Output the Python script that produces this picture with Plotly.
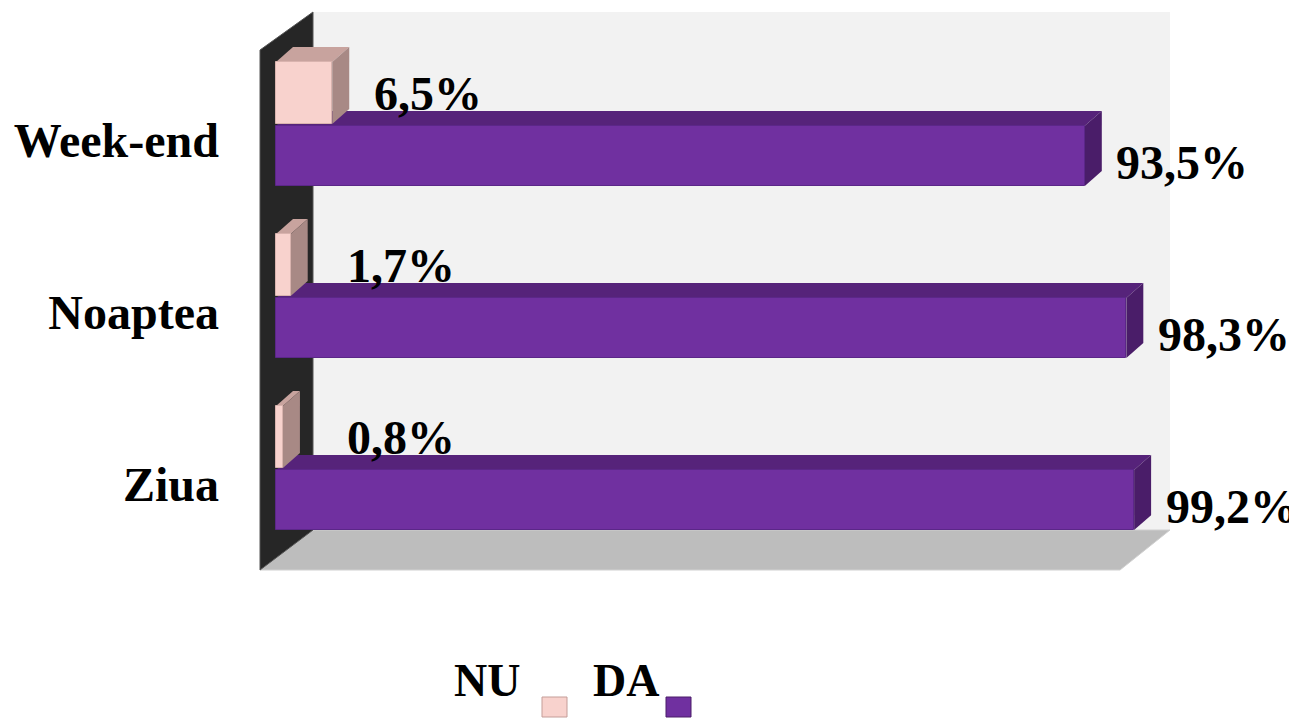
import plotly.graph_objects as go

# ---------------- data ----------------
categories = ["Ziua", "Noaptea", "Week-end"]
series_names = ["NU", "DA"]
nu_values = [0.8, 1.7, 6.5]
da_values = [99.2, 98.3, 93.5]


def fmt(v):
    return f"{v:.1f}".replace(".", ",") + "%"


# ---------------- styling / geometry ----------------
OFF = 8  # page body margin
W, H = 1297 - OFF, 719 - OFF
L, T = 260 - OFF, 12 - OFF
PW, PH = 910, 558
R, B = W - L - PW, H - T - PH

X_RANGE = [-1.85, 103.35]
Y_RANGE = [-0.407, 2.837]
NU_OFF = 0.366
DA_W, NU_W = 0.35, 0.36
DX, DY = 1.965, 0.087  # 3D depth in data units

DA_FRONT, DA_TOP, DA_SIDE, DA_EDGE = "#7030a0", "#56237a", "#4a1d69", "#5b2788"
NU_FRONT, NU_TOP, NU_SIDE, NU_EDGE = "#f8d2cd", "#c8a39e", "#a88985", "#d9b3ae"
FONT = "Liberation Serif"


def fx(px):  # page pixel -> paper fraction
    return (px - OFF - L) / PW


def fy(py):
    return (T + PH - (py - OFF)) / PH


cat_pos = list(range(len(categories)))
nu_pos = [c + NU_OFF for c in cat_pos]

fig = go.Figure()

fig.add_trace(go.Bar(
    name=series_names[1], x=da_values, y=cat_pos, orientation="h", width=DA_W,
    marker=dict(color=DA_FRONT, line=dict(color=DA_EDGE, width=1)),
    hoverinfo="x+name", showlegend=False))
fig.add_trace(go.Bar(
    name=series_names[0], x=nu_values, y=nu_pos, orientation="h", width=NU_W,
    marker=dict(color=NU_FRONT, line=dict(color=NU_EDGE, width=1)),
    hoverinfo="x+name", showlegend=False))

shapes = []
# back wall
shapes.append(dict(type="rect", xref="paper", yref="paper", layer="below",
                   x0=fx(313), x1=fx(1170), y0=fy(530), y1=fy(12),
                   fillcolor="#f2f2f2", line=dict(width=0)))
# floor
shapes.append(dict(type="path", xref="paper", yref="paper", layer="below",
                   path=f"M {fx(260)},{fy(570)} L {fx(313)},{fy(530)} L {fx(1170)},{fy(530)} "
                        f"L {fx(1120)},{fy(570)} Z",
                   fillcolor="#bdbdbd", line=dict(color="#d0d0d0", width=1)))
# left wall
shapes.append(dict(type="path", xref="paper", yref="paper", layer="below",
                   path=f"M {fx(260)},{fy(570)} L {fx(260)},{fy(50)} L {fx(313)},{fy(12)} "
                        f"L {fx(313)},{fy(530)} Z",
                   fillcolor="#262626", line=dict(color="#555555", width=1)))


def faces(v, c, w, top, side):
    yt, yb = c + w / 2, c - w / 2
    return [
        dict(type="path", xref="x", yref="y", layer="below",
             path=f"M 0,{yt} L {v},{yt} L {v + DX},{yt + DY} L {DX},{yt + DY} Z",
             fillcolor=top, line=dict(width=0)),
        dict(type="path", xref="x", yref="y", layer="below",
             path=f"M {v},{yb} L {v + DX},{yb + DY} L {v + DX},{yt + DY} L {v},{yt} Z",
             fillcolor=side, line=dict(width=0)),
    ]


for v, c in zip(da_values, cat_pos):
    shapes += faces(v, c, DA_W, DA_TOP, DA_SIDE)
for v, c in zip(nu_values, nu_pos):
    shapes += faces(v, c, NU_W, NU_TOP, NU_SIDE)

# legend squares
shapes.append(dict(type="rect", xref="paper", yref="paper",
                   x0=fx(542), x1=fx(567), y0=fy(717), y1=fy(697),
                   fillcolor=NU_FRONT, line=dict(color="#c49d98", width=1)))
shapes.append(dict(type="rect", xref="paper", yref="paper",
                   x0=fx(666), x1=fx(691), y0=fy(717), y1=fy(697),
                   fillcolor=DA_FRONT, line=dict(color="#4a1d69", width=1)))

annotations = []
lab_font = dict(family=FONT, size=48, color="black")
leg_font = dict(family=FONT, size=46, color="black")
for v, c in zip(nu_values, nu_pos):
    annotations.append(dict(x=max(v + 4.6, 8.0), y=c, xref="x", yref="y",
                            text=f"<b>{fmt(v)}</b>", showarrow=False,
                            xanchor="left", yanchor="middle", font=lab_font))
for v, c in zip(da_values, cat_pos):
    annotations.append(dict(x=v + 3.4, y=c, xref="x", yref="y", yshift=-7,
                            text=f"<b>{fmt(v)}</b>", showarrow=False,
                            xanchor="left", yanchor="middle", font=lab_font))
# legend texts
annotations.append(dict(x=fx(487), y=fy(680), xref="paper", yref="paper",
                        text=f"<b>{series_names[0]}</b>", showarrow=False,
                        xanchor="center", yanchor="middle", font=leg_font))
annotations.append(dict(x=fx(626), y=fy(680), xref="paper", yref="paper",
                        text=f"<b>{series_names[1]}</b>", showarrow=False,
                        xanchor="center", yanchor="middle", font=leg_font))

fig.update_layout(
    width=W, height=H,
    margin=dict(l=L, r=R, t=T, b=B, pad=0),
    paper_bgcolor="white", plot_bgcolor="white",
    barmode="overlay", bargap=0,
    shapes=shapes, annotations=annotations,
    xaxis=dict(range=X_RANGE, showgrid=False, zeroline=False, showticklabels=False,
               showline=False, ticks="", fixedrange=True),
    yaxis=dict(range=Y_RANGE, showgrid=False, zeroline=False, showline=False, ticks="",
               tickmode="array", tickvals=[c + 0.09 for c in cat_pos],
               ticktext=[f"<b>{c}</b>" for c in categories],
               tickfont=dict(family=FONT, size=48, color="black"),
               ticklabelstandoff=40, fixedrange=True),
    showlegend=False,
)

fig.write_html("out.html")
